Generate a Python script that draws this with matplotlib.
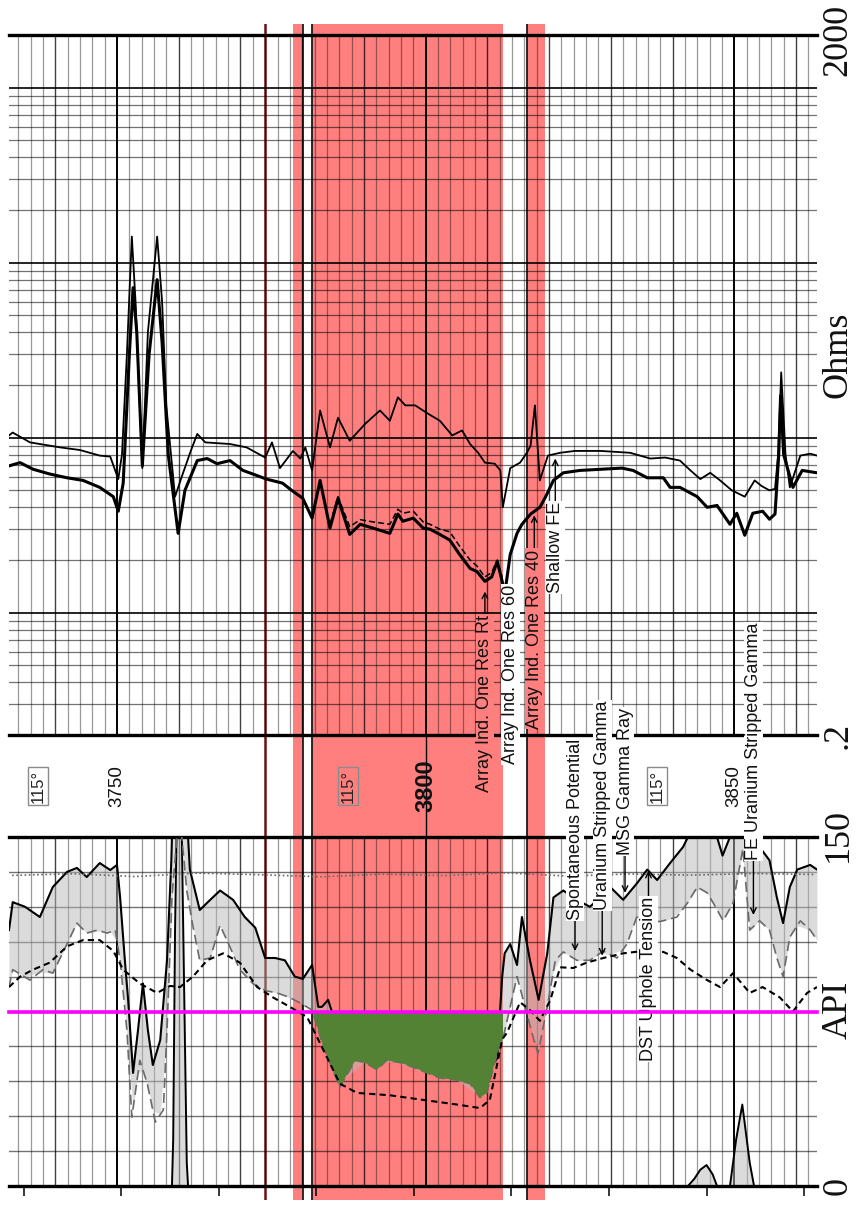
""" Rotated well log panel: resistivity (log) track, depth track, gamma/SP track """

import matplotlib.pyplot as plt
import numpy as np
from matplotlib.patches import Rectangle

# ---- resistivity curves (ohm.m) ----
shallow_depth = [3732.5, 3733.1, 3735.9, 3740.8, 3744.0, 3747.2, 3748.9, 3750.2, 3750.8, 3751.6,
                 3752.4, 3753.0, 3754.1, 3755.0, 3756.5, 3757.3, 3758.0, 3759.4, 3760.5, 3762.0,
                 3763.0, 3764.3, 3768.3, 3771.0, 3774.0, 3775.1, 3776.4, 3778.5, 3779.7, 3780.5,
                 3781.6, 3782.9, 3784.5, 3785.8, 3787.7, 3790.2, 3792.6, 3794.2, 3795.5, 3796.7,
                 3798.3, 3800.4, 3802.3, 3804.3, 3805.9, 3807.2, 3808.5, 3809.6, 3811.2, 3812.1,
                 3812.5, 3813.7, 3815.3, 3816.4, 3817.0, 3817.7, 3818.5, 3819.8, 3821.8, 3824.2,
                 3828.3, 3833.1, 3836.4, 3838.8, 3841.2, 3842.9, 3844.5, 3846.1, 3847.7, 3849.6,
                 3851.7, 3853.3, 3854.4, 3855.7, 3856.6, 3857.1, 3857.6, 3858.3, 3859.0, 3860.7,
                 3862.3, 3863.4]
shallow_ohm = [10.3, 10.7, 9.4, 8.8, 8.5, 7.9, 7.8, 5.8, 8.0, 30,
               141, 60, 6.7, 40, 141, 60, 15, 4.6, 6.0, 8.5,
               10.5, 9.4, 9.2, 8.8, 7.7, 9.4, 6.7, 8.4, 7.6, 8.8,
               6.5, 14.3, 8.8, 13.0, 9.6, 12.0, 14.3, 12.5, 17.0, 15.3,
               15.3, 13.7, 12.5, 10.3, 11.0, 9.2, 8.2, 7.2, 7.1, 6.5,
               4.0, 6.7, 7.2, 8.2, 9.0, 15.3, 5.7, 7.9, 8.2, 8.4,
               8.4, 8.2, 7.6, 7.7, 7.4, 6.5, 5.8, 6.3, 5.7, 5.0,
               4.6, 5.7, 5.3, 5.0, 5.1, 8.0, 23.6, 8.0, 5.2, 7.9,
               8.1, 7.9]

rt_depth = [3732.5, 3734.3, 3736.4, 3739.1, 3741.9, 3744.5, 3747.2, 3749.4, 3750.2, 3751.0,
            3752.0, 3752.6, 3753.2, 3754.1, 3755.2, 3756.5, 3757.3, 3758.3, 3759.9, 3761.0,
            3763.0, 3764.6, 3766.2, 3768.3, 3770.4, 3772.0, 3774.2, 3776.8, 3778.3, 3780.1,
            3781.6, 3782.9, 3784.5, 3785.8, 3787.7, 3789.4, 3791.5, 3794.2, 3795.5, 3796.3,
            3798.0, 3799.6, 3800.7, 3802.3, 3803.9, 3805.5, 3807.2, 3808.3, 3809.6, 3810.7,
            3811.6, 3812.4, 3812.8, 3813.7, 3814.8, 3815.6, 3817.0, 3818.5, 3819.3, 3820.7,
            3822.3, 3825.0, 3831.8, 3833.6, 3835.9, 3838.5, 3839.6, 3841.2, 3844.0, 3845.6,
            3847.2, 3849.3, 3850.4, 3851.7, 3853.0, 3854.6, 3855.7, 3856.6, 3857.2, 3857.5,
            3858.0, 3859.5, 3861.0, 3863.4]
rt_ohm = [6.9, 7.2, 6.6, 6.2, 5.9, 5.7, 5.2, 4.6, 3.8, 5.5,
          30, 72, 40, 6.9, 30, 80, 35, 8.0, 2.84, 5.0,
          7.4, 7.6, 7.1, 7.4, 6.5, 6.2, 5.8, 5.5, 5.0, 4.5,
          3.47, 5.7, 3.04, 4.5, 2.8, 3.2, 3.04, 2.84, 3.66, 3.33,
          3.47, 3.04, 3.0, 2.8, 2.6, 2.15, 1.79, 1.72, 1.51, 1.6,
          1.96, 1.51, 1.27, 2.15, 2.84, 3.2, 3.66, 4.0, 4.5, 5.7,
          6.3, 6.5, 6.7, 6.5, 5.9, 5.9, 5.2, 5.2, 4.6, 4.0,
          4.1, 3.2, 3.7, 2.77, 3.7, 3.8, 3.42, 3.66, 8.0, 17.4,
          8.0, 5.2, 6.5, 6.3]

res60_depth = [3784.5, 3785.8, 3787.7, 3789.4, 3791.5, 3794.2, 3795.5, 3796.3, 3798.0, 3799.6,
               3800.7, 3802.3, 3803.9, 3805.5, 3807.2, 3808.3, 3809.6, 3810.7, 3811.6, 3812.4]
res60_ohm = [3.2, 4.6, 3.1, 3.4, 3.3, 3.2, 3.9, 3.7, 3.8, 3.3,
             3.2, 3.0, 2.9, 2.4, 2.0, 1.85, 1.6, 1.7, 2.0, 1.6]

# ---- gamma / SP track (API) ----
gr_depth = [3732.5, 3733.1, 3735.1, 3737.5, 3739.6, 3741.9, 3743.5, 3745.1, 3747.2, 3748.9,
            3750.0, 3750.5, 3751.3, 3751.8, 3752.6, 3753.4, 3754.2, 3755.0, 3755.8, 3757.0,
            3758.1, 3758.8, 3759.1, 3759.4, 3759.7, 3760.1, 3760.5, 3760.9, 3761.3, 3761.8,
            3763.4, 3765.1, 3766.7, 3768.8, 3770.7, 3772.4, 3774.0, 3775.6, 3777.2, 3778.8,
            3780.1, 3781.6, 3782.6, 3783.2, 3784.2, 3784.8, 3785.5, 3787.0, 3790.0, 3795.0,
            3800.0, 3805.0, 3809.0, 3811.6, 3812.4, 3812.8, 3813.7, 3814.8, 3815.6, 3816.9,
            3818.3, 3819.7, 3820.7, 3822.3, 3824.5, 3826.6, 3828.3, 3829.9, 3832.0, 3834.2,
            3835.9, 3837.5, 3839.6, 3841.7, 3842.5, 3843.5, 3844.5, 3845.5, 3846.5, 3847.2,
            3848.1, 3849.3, 3850.3, 3851.3, 3852.5, 3853.2, 3854.0, 3855.7, 3856.9, 3857.9,
            3859.0, 3860.2, 3862.3, 3863.4]
gr_api = [110, 122, 120, 115.6, 128.5, 135, 136.7, 132.8, 138.8, 135.8,
          138, 124, 96, 80, 48.6, 67, 87, 67, 52, 62.7,
          97, 140, 170, 260, 310, 320, 300, 230, 160, 136,
          118.6, 123, 127, 123, 115.6, 111, 98, 98, 97, 90,
          89, 95, 77, 77, 80, 75, 68, 58, 56, 55,
          52, 50, 45, 55, 90, 100, 104, 95, 115.6, 97,
          80, 100, 124, 127, 123, 120, 124, 128.5, 123, 130,
          136, 131.5, 138.8, 145.7, 150, 153, 157, 159, 155, 150,
          142, 150, 170, 185, 160, 150, 146, 140, 124, 113,
          128.5, 136, 138, 136]

ugr_depth = [3732.5, 3733.1, 3735.9, 3738.0, 3739.6, 3741.9, 3743.5, 3745.1, 3746.8, 3748.4,
             3749.7, 3750.5, 3751.6, 3752.4, 3753.7, 3754.9, 3756.2, 3757.5, 3758.1, 3758.9,
             3759.7, 3760.2, 3760.5, 3761.3, 3762.2, 3763.4, 3765.1, 3766.7, 3768.3, 3769.9,
             3772.0, 3774.0, 3775.9, 3778.0, 3779.7, 3781.6, 3783.4, 3786.1, 3788.6, 3790.2,
             3792.1, 3793.7, 3795.9, 3798.0, 3800.2, 3802.3, 3805.1, 3807.2, 3808.8, 3809.9,
             3811.6, 3812.5, 3814.8, 3815.8, 3817.4, 3818.2, 3819.7, 3821.0, 3822.3, 3824.5,
             3826.6, 3828.8, 3831.0, 3832.6, 3834.2, 3836.4, 3838.5, 3840.7, 3842.4, 3844.0,
             3845.6, 3846.6, 3848.2, 3849.8, 3851.4, 3852.5, 3854.1, 3855.7, 3856.9, 3857.9,
             3859.0, 3860.7, 3862.3, 3863.4]
ugr_api = [85.5, 93, 88.5, 93, 91.5, 104, 113, 108.7, 110, 108.7,
           110, 97, 67, 29.6, 54, 44, 27.5, 32.7, 67, 124,
           150, 165, 150, 127, 113, 97, 98, 112, 102.7, 93,
           87, 84, 83, 81, 78.6, 75.6, 60, 42.5, 54, 53,
           50, 54, 53, 51, 48.6, 46.4, 45.5, 44, 38, 40,
           57, 63, 90, 80, 64, 57, 77, 97, 100.6, 97,
           97, 101, 98, 104, 115.6, 113, 114, 115.6, 121.6, 128.5,
           126, 121.6, 114, 121.6, 145, 110, 114, 110, 98, 90,
           107, 114, 110, 105.7]

sp_depth = [3732.5, 3734.3, 3736.4, 3739.1, 3741.9, 3744.5, 3747.2, 3749.4, 3751.0, 3753.7,
            3756.5, 3758.6, 3760.2, 3762.3, 3764.6, 3767.2, 3769.9, 3772.7, 3775.3, 3778.0,
            3780.8, 3782.4, 3786.1, 3788.9, 3794.2, 3799.6, 3805.1, 3808.8, 3810.4, 3812.4,
            3813.2, 3815.3, 3816.9, 3818.5, 3820.2, 3821.8, 3823.9, 3826.1, 3828.8, 3832.0,
            3835.2, 3838.5, 3840.7, 3842.9, 3845.6, 3847.7, 3849.8, 3852.5, 3854.6, 3857.4,
            3859.5, 3861.8, 3863.4]
sp_api = [85.5, 90, 93, 96, 103, 105.7, 105.7, 101, 93, 87,
          83, 86, 85.5, 90, 97, 100, 96, 85.5, 81, 77,
          72.6, 64, 44, 40, 39, 37, 35, 33.5, 37, 63,
          66, 79, 75.6, 71, 80, 94, 93.7, 96, 98, 100,
          101, 100.6, 98, 93, 88.5, 85.5, 91.5, 83, 85.5, 81,
          75, 83, 85.5]

tension_depth = [3733, 3743, 3753, 3763, 3773, 3783, 3793, 3803, 3813, 3823, 3833, 3843, 3853, 3863]
tension_api = [133.5, 134.2, 133.0, 134.5, 133.8, 132.9, 134.0, 133.4, 134.6, 133.2, 134.1, 133.6, 134.3, 133.9]

# perforated / tested intervals and markers
zone_top = [3778.5, 3781.6, 3816.4]
zone_base = [3780.2, 3812.5, 3819.3]
marker_red = 3774.0
marker_black = [3780.1, 3781.6, 3816.4]
temp_depths = [3737.2, 3787.4, 3837.5]
depth_labels = [3750, 3800, 3850]
tick_depths = [3734.9, 3750.7, 3766.5, 3782.3, 3798.1, 3813.9, 3829.7, 3845.5, 3861.3]
cutoff = 75

dmin, dmax = 3732.5, 3863.4
W, H = 856, 1207
sans = 'Liberation Sans'
serif = 'Liberation Serif'

fig = plt.figure(figsize=(W / 100, H / 100), dpi=100)


def box(x0, y0, x1, y1):
    # pixel box measured from top-left -> figure fraction
    return [x0 / W, 1 - y1 / H, (x1 - x0) / W, (y1 - y0) / H]


under = fig.add_axes(box(9, 24, 817, 1200), zorder=0)
ax_res = fig.add_axes(box(9, 35, 817, 735), facecolor='none', zorder=1)
ax_dep = fig.add_axes(box(9, 735, 817, 837), facecolor='none', zorder=1)
ax_api = fig.add_axes(box(9, 837, 817, 1186), facecolor='none', zorder=1)
over = fig.add_axes([0, 0, 1, 1], facecolor='none', zorder=5)
over.axis('off')
over.set_xlim(0, 1)
over.set_ylim(0, 1)

# zones under everything
under.axis('off')
under.set_xlim(dmin, dmax)
under.set_ylim(0, 1)
for t, b in zip(zone_top, zone_base):
    under.axvspan(t, b, color='#ff7f7f', lw=0)
under.axvline(marker_red, color='#6e1010', lw=1.8)
for d in marker_black:
    under.axvline(d, color='#1a1a1a', lw=1.3)

for ax in (ax_res, ax_dep, ax_api):
    ax.set_xlim(dmin, dmax)
    ax.set_xticks([])
    ax.set_yticks([])
    ax.spines['left'].set_visible(False)
    ax.spines['right'].set_visible(False)
    for s in ('top', 'bottom'):
        ax.spines[s].set_linewidth(2.4)

ax_dep.spines['top'].set_visible(False)
ax_dep.spines['bottom'].set_visible(False)
ax_dep.set_ylim(0, 1)


def depth_grid(ax):
    for d in range(3734, 3864, 2):
        if d % 50 == 0:
            ax.axvline(d, color='black', lw=1.4, zorder=1)
        elif d % 10 == 0:
            ax.axvline(d, color='black', alpha=0.75, lw=1.0, zorder=1)
        else:
            ax.axvline(d, color='black', alpha=0.4, lw=0.9, zorder=1)


# ---- resistivity track ----
ax_res.set_yscale('log')
ax_res.set_ylim(0.2, 2000)
ax_res.minorticks_off()
ax_res.set_yticks([])
depth_grid(ax_res)
for p in range(-1, 4):
    for k in range(1, 10):
        v = k * 10.0 ** p
        if v <= 0.2 or v >= 2000:
            continue
        if k == 1:
            ax_res.axhline(v, color='black', lw=1.2, zorder=1)
        else:
            ax_res.axhline(v, color='black', alpha=0.55, lw=0.9, zorder=1)

ax_res.plot(shallow_depth, shallow_ohm, color='black', lw=1.3, zorder=3)
ax_res.plot(rt_depth, rt_ohm, color='black', lw=2.2, zorder=3)
ax_res.plot(res60_depth, res60_ohm, color='black', lw=1.1, ls=(0, (4, 2)), zorder=3)

# ---- depth track ----
ax_dep.axvline(3800, color='black', lw=1.0)
for d in temp_depths:
    ax_dep.text(d, 0.5, '115°', rotation=90, ha='center', va='center', fontsize=12,
                family=sans, color='#222',
                bbox=dict(boxstyle='square,pad=0.15', fc='none', ec='#8a8a8a', lw=1))
for d in depth_labels:
    big = d == 3800
    ax_dep.text(d, 0.5, str(d), rotation=90, ha='center', va='center',
                fontsize=17 if big else 13.5, fontweight='bold' if big else 'normal',
                family=sans, color='#111')

# ---- gamma / SP track ----
ax_api.set_ylim(0, 150)
depth_grid(ax_api)
for v in range(15, 150, 15):
    ax_api.axhline(v, color='black', alpha=0.55, lw=1.0, zorder=1)

gr = np.array(gr_api)
ax_api.fill_between(gr_depth, gr, np.interp(gr_depth, ugr_depth, ugr_api),
                    color='#b8b8b8', alpha=0.5, lw=0, zorder=2)
# wrapped backup of the gamma ray above full scale
ax_api.fill_between(gr_depth, 0, gr - 150, where=gr > 150, interpolate=True,
                    color='#b8b8b8', alpha=0.5, lw=0, zorder=2)
ax_api.plot(gr_depth, gr - 150, color='black', lw=1.4, zorder=3)

ax_api.plot(gr_depth, gr_api, color='black', lw=1.5, zorder=3)
ax_api.plot(ugr_depth, ugr_api, color='#6a6a6a', lw=1.2, ls=(0, (6, 3)), zorder=3)

ugr = np.array(ugr_api)
green = ax_api.fill_between(ugr_depth, ugr, cutoff, where=ugr < cutoff, interpolate=True,
                            color='#548235', lw=0, zorder=4)
green.set_clip_path(Rectangle((zone_top[1], 0), zone_base[1] - zone_top[1], 150,
                              transform=ax_api.transData))

ax_api.plot(sp_depth, sp_api, color='black', lw=1.5, ls=(0, (3, 2)), zorder=5)
ax_api.plot(tension_depth, tension_api, color='#6a6a6a', lw=1.2, ls=(0, (1, 1.5)), zorder=3)

ax_api.set_xticks(tick_depths)
ax_api.tick_params(axis='x', direction='out', length=7, width=1.1, labelbottom=False,
                   top=False, bottom=True)

# ---- curve labels ----
white = dict(boxstyle='square,pad=0.05', fc='white', ec='none')
red = dict(boxstyle='square,pad=0.05', fc='#ff7f7f', ec='none')
arrow = dict(arrowstyle='->', color='black', lw=1, shrinkA=0, shrinkB=0, mutation_scale=10)

res_labels = [
    ('Array Ind. One Res Rt', 3809.6, 0.97, 1.32, red),
    ('Array Ind. One Res 60', 3813.7, 1.45, None, white),
    ('Array Ind. One Res 40', 3817.6, 2.3, 3.6, red),
    ('Shallow FE', 3821.0, 4.3, 7.6, white),
]
for txt, d, y_top, tip, bg in res_labels:
    if tip is None:
        over.text(d, y_top, txt, transform=ax_res.transData, rotation=90, ha='center',
                  va='top', fontsize=13, family=sans, color='#111', bbox=bg)
    else:
        over.annotate(txt, xy=(d, tip), xycoords=ax_res.transData, xytext=(d, y_top),
                      textcoords=ax_res.transData, rotation=90, ha='center', va='top',
                      fontsize=13, family=sans, color='#111', bbox=bg,
                      arrowprops=arrow, annotation_clip=False)

api_labels = [
    ('Spontaneous Potential', 3824.2, 114.3, 101.0, 'bottom'),
    ('Uranium Stripped Gamma', 3828.6, 118.6, 99.0, 'bottom'),
    ('MSG Gamma Ray', 3832.3, 142.3, 126.0, 'bottom'),
    ('DST Uphole Tension', 3836.1, 124.2, 135.5, 'top'),
    ('FE Uranium Stripped Gamma', 3853.1, 140.1, 116.5, 'bottom'),
]
for txt, d, y0, tip, va in api_labels:
    over.annotate(txt, xy=(d, tip), xycoords=ax_api.transData, xytext=(d, y0),
                  textcoords=ax_api.transData, rotation=90, ha='center', va=va,
                  fontsize=13, family=sans, color='#111', bbox=white,
                  arrowprops=arrow, annotation_clip=False)

# cutoff line stays on top of the label boxes
over.plot([dmin, dmax], [cutoff, cutoff], transform=ax_api.transData,
          color='#ff00ff', lw=2.6, zorder=10)

# scale captions on the right edge
for txt, yc in [('2000', 40), ('Ohms', 355), ('.2', 735), ('150', 835), ('API', 1010), ('0', 1186)]:
    fig.text(838 / W, 1 - yc / H, txt, rotation=90, ha='center', va='center',
             fontsize=26, family=serif, color='#111')

fig.savefig('out.png', dpi=100)
